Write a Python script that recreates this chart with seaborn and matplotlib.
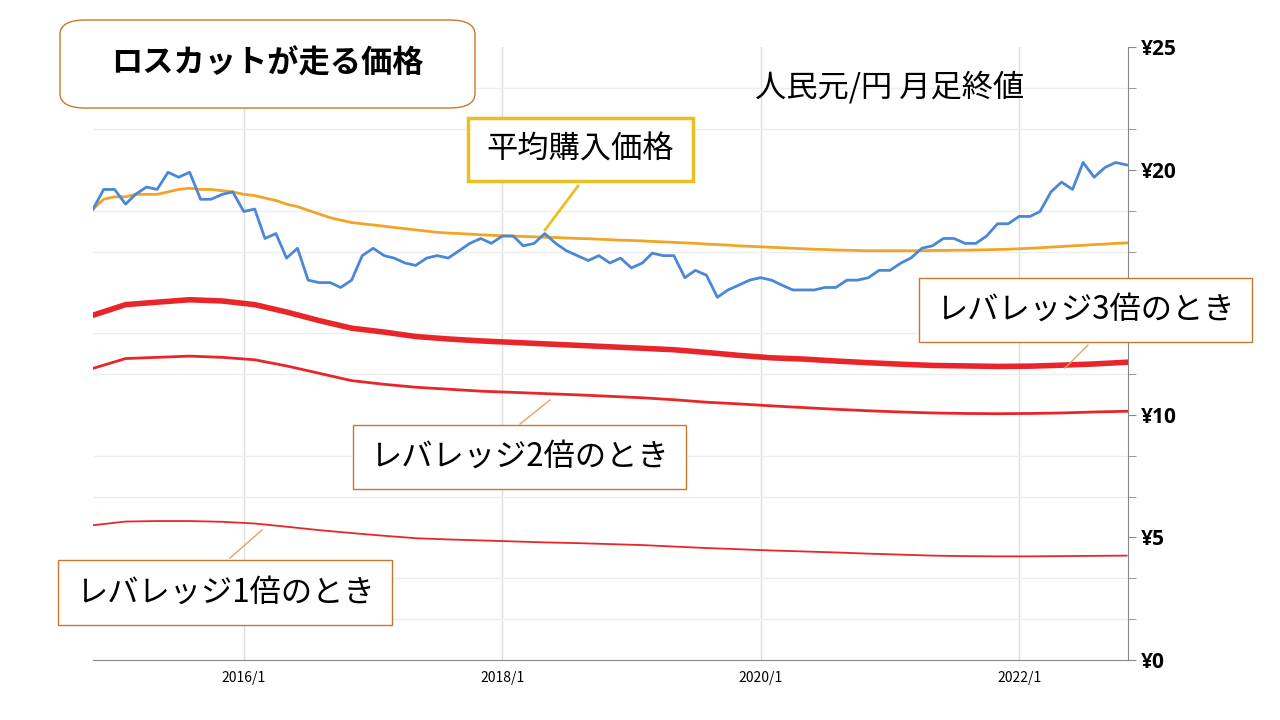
import pandas as pd
import matplotlib.pyplot as plt
import matplotlib.dates as mdates
from matplotlib.patches import FancyBboxPatch
from matplotlib.lines import Line2D
import seaborn as sns

plt.rcParams['font.family'] = 'Noto Sans CJK JP'

# 人民元/円 月足終値 (2014/11 - 2022/11)
close = [18.4, 19.2, 19.2, 18.6, 19.0, 19.3, 19.2, 19.9, 19.7, 19.9, 18.8, 18.8, 19.0, 19.1,
         18.3, 18.4, 17.2, 17.4, 16.4, 16.8, 15.5, 15.4, 15.4, 15.2, 15.5, 16.5, 16.8, 16.5,
         16.4, 16.2, 16.1, 16.4, 16.5, 16.4, 16.7, 17.0, 17.2, 17.0, 17.3, 17.3, 16.9, 17.0,
         17.4, 17.0, 16.7, 16.5, 16.3, 16.5, 16.2, 16.4, 16.0, 16.2, 16.6, 16.5, 16.5, 15.6,
         15.9, 15.7, 14.8, 15.1, 15.3, 15.5, 15.6, 15.5, 15.3, 15.1, 15.1, 15.1, 15.2, 15.2,
         15.5, 15.5, 15.6, 15.9, 15.9, 16.2, 16.4, 16.8, 16.9, 17.2, 17.2, 17.0, 17.0, 17.3,
         17.8, 17.8, 18.1, 18.1, 18.3, 19.1, 19.5, 19.2, 20.3, 19.7, 20.1, 20.3, 20.2]

# 平均購入価格
avg_price = [18.4, 18.8, 18.9, 18.9, 19.0, 19.0, 19.0, 19.1, 19.2, 19.25, 19.2, 19.2, 19.15, 19.1,
             19.0, 18.95, 18.85, 18.75, 18.6, 18.5, 18.35, 18.2, 18.05, 17.95, 17.85, 17.8, 17.75,
             17.7, 17.65, 17.6, 17.55, 17.5, 17.45, 17.42, 17.4, 17.38, 17.35, 17.33, 17.31, 17.3,
             17.28, 17.27, 17.25, 17.24, 17.22, 17.2, 17.19, 17.17, 17.15, 17.13, 17.12, 17.1,
             17.08, 17.06, 17.04, 17.02, 17.0, 16.97, 16.95, 16.93, 16.9, 16.88, 16.86, 16.84,
             16.82, 16.8, 16.78, 16.76, 16.75, 16.73, 16.72, 16.71, 16.7, 16.7, 16.7,
             16.7, 16.7, 16.7, 16.71, 16.71, 16.72, 16.72, 16.73, 16.74, 16.75, 16.76, 16.78,
             16.8, 16.82, 16.85, 16.87, 16.9, 16.92, 16.95, 16.97, 17.0, 17.02]

# ロスカット価格 (四半期ごと)
lev3 = [14.07, 14.5, 14.6, 14.7, 14.65, 14.5, 14.2, 13.85, 13.54, 13.38, 13.2, 13.1, 13.02,
        12.96, 12.9, 12.84, 12.78, 12.72, 12.66, 12.55, 12.43, 12.33, 12.28, 12.2, 12.13,
        12.07, 12.02, 12.0, 11.98, 11.99, 12.03, 12.08, 12.15]
lev2 = [11.9, 12.3, 12.35, 12.4, 12.35, 12.25, 12.0, 11.7, 11.4, 11.25, 11.13, 11.05, 10.97,
        10.92, 10.87, 10.82, 10.76, 10.7, 10.62, 10.52, 10.45, 10.37, 10.3, 10.23, 10.17,
        10.12, 10.08, 10.06, 10.05, 10.06, 10.08, 10.12, 10.15]
lev1 = [5.5, 5.65, 5.67, 5.67, 5.64, 5.57, 5.44, 5.3, 5.18, 5.07, 4.97, 4.92, 4.88,
        4.84, 4.8, 4.77, 4.73, 4.69, 4.63, 4.57, 4.52, 4.47, 4.43, 4.39, 4.34,
        4.3, 4.26, 4.24, 4.23, 4.23, 4.24, 4.25, 4.26]

months = pd.date_range('2014-11-01', periods=len(close), freq='MS')
quarters = pd.date_range('2014-11-01', periods=len(lev3), freq='3MS')
monthly = pd.DataFrame({'date': months, 'close': close, 'avg': avg_price})
lc = pd.DataFrame({'date': quarters, 'lev3': lev3, 'lev2': lev2, 'lev1': lev1})

fig = plt.figure(figsize=(12.8, 7.2), dpi=100)
ax = fig.add_axes([0.0727, 0.0833, 0.8086, 0.851])

sns.lineplot(data=lc, x='date', y='lev1', ax=ax, color='#e8262a', lw=1.3)
sns.lineplot(data=lc, x='date', y='lev2', ax=ax, color='#e8262a', lw=2)
sns.lineplot(data=lc, x='date', y='lev3', ax=ax, color='#e8262a', lw=4)
sns.lineplot(data=monthly, x='date', y='avg', ax=ax, color='#f2a427', lw=2)
sns.lineplot(data=monthly, x='date', y='close', ax=ax, color='#4a87d6', lw=2)

ax.set_xlim(pd.Timestamp('2014-11-01'), pd.Timestamp('2022-11-05'))
ax.set_ylim(0, 25)
ax.set_xticks(pd.to_datetime(['2016-01-01', '2018-01-01', '2020-01-01', '2022-01-01']))
ax.xaxis.set_major_formatter(mdates.DateFormatter('%Y/%-m'))
ax.yaxis.tick_right()
ax.set_yticks([0, 5, 10, 15, 20, 25])
ax.set_yticklabels(['¥0', '¥5', '¥10', '', '¥20', '¥25'], fontsize=15,
                   fontweight='bold', fontfamily='Open Sans')
ax.set_yticks([i * 5 / 3 for i in range(16)], minor=True)
ax.tick_params(axis='y', which='both', length=6, color='#888888')
ax.tick_params(axis='x', length=0, labelsize=10, pad=8)
ax.grid(axis='x', color='#dddddd', lw=1)
ax.grid(axis='y', which='minor', color='#eeeeee', lw=1)
for s in ['top', 'left']:
    ax.spines[s].set_visible(False)
ax.spines['right'].set_color('#888888')
ax.spines['bottom'].set_color('#888888')
ax.set_xlabel('')
ax.set_ylabel('')


def px(x, y):
    return x / 1280, 1 - y / 720


def box(x0, y0, x1, y1, text, edge='#c8772e', lw=1, rounded=False, bold=False, size=22.5):
    style = 'round,pad=0,rounding_size=0.02' if rounded else 'square,pad=0'
    bx, by = px(x0, y1)
    fig.add_artist(FancyBboxPatch((bx, by), (x1 - x0) / 1280, (y1 - y0) / 720,
                                  boxstyle=style, transform=fig.transFigure,
                                  facecolor='white', edgecolor=edge, lw=lw, zorder=5))
    cx, cy = px((x0 + x1) / 2, (y0 + y1) / 2)
    fig.text(cx, cy, text, ha='center', va='center', fontsize=size,
             fontweight='bold' if bold else 'normal', zorder=6)


def leader(x0, y0, x1, y1, color='#e8a060', lw=1):
    a, b = px(x0, y0)
    c, d = px(x1, y1)
    fig.add_artist(Line2D([a, c], [b, d], transform=fig.transFigure, color=color, lw=lw))


box(60, 20, 475, 108, 'ロスカットが走る価格', rounded=True, bold=True, size=22.5)
box(468, 118, 693, 181, '平均購入価格', edge='#e8c020', lw=2.5)
leader(578, 186, 545, 230, color='#e8c020', lw=2)
fig.text(*px(890, 87), '人民元/円 月足終値', ha='center', va='center', fontsize=22.5)
box(919, 278, 1252, 342, 'レバレッジ3倍のとき')
leader(1088, 345, 1065, 368)
box(353, 425, 686, 489, 'レバレッジ2倍のとき')
leader(550, 400, 520, 424)
box(58, 560, 392, 625, 'レバレッジ1倍のとき')
leader(262, 530, 230, 558)

fig.savefig('out.png', dpi=100)
